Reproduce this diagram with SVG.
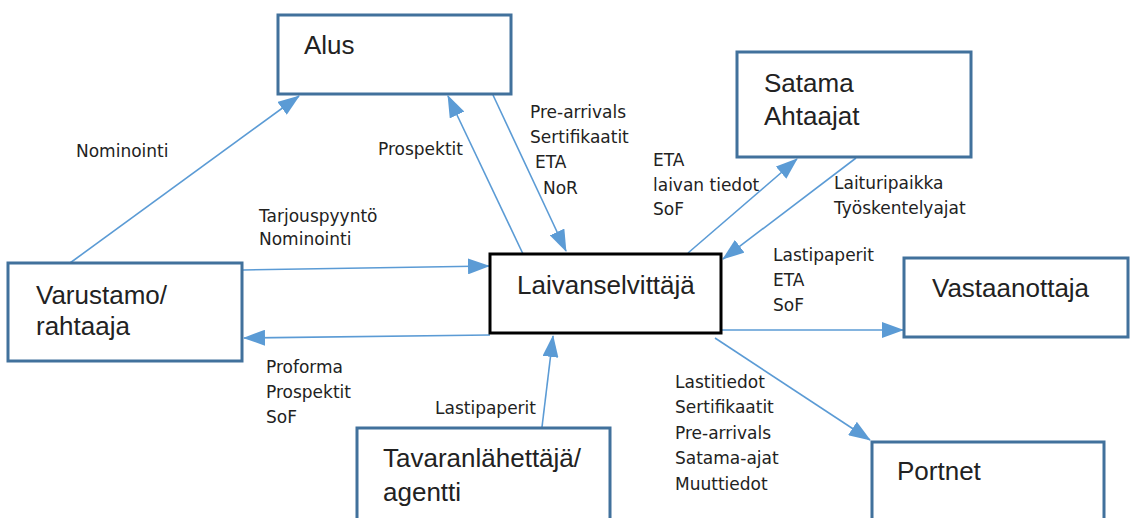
<svg xmlns="http://www.w3.org/2000/svg" width="1131" height="518" viewBox="0 0 1131 518">
  <style>
    .box { fill: #ffffff; stroke: #41719C; stroke-width: 3; }
    .hub { fill: #ffffff; stroke: #000000; stroke-width: 3; }
    .name { font-family: "Liberation Sans", Arial, sans-serif; font-size: 26px; fill: #222222; }
    .lbl { font-family: "DejaVu Sans", Verdana, sans-serif; font-size: 17px; fill: #222222; }
    .flow { stroke: #5B9BD5; stroke-width: 1.6; fill: none; marker-end: url(#head); }
  </style>
  <defs>
    <marker id="head" markerUnits="userSpaceOnUse" markerWidth="22" markerHeight="16" refX="21" refY="8" orient="auto">
      <path d="M0,0 L22,8 L0,16 z" fill="#5B9BD5"/>
    </marker>
  </defs>
  <rect width="1131" height="518" fill="#ffffff"/>

  <!-- connectors -->
  <g id="connectors">
    <line class="flow" x1="70" y1="263" x2="299" y2="96"/>
    <line class="flow" x1="523" y1="254" x2="448" y2="96"/>
    <line class="flow" x1="493" y1="95" x2="566" y2="251"/>
    <line class="flow" x1="688" y1="253" x2="797" y2="159"/>
    <line class="flow" x1="856" y1="158" x2="723" y2="259"/>
    <line class="flow" x1="243" y1="270" x2="489" y2="266"/>
    <line class="flow" x1="490" y1="335" x2="244" y2="338"/>
    <line class="flow" x1="542" y1="427" x2="553" y2="336"/>
    <line class="flow" x1="722" y1="330" x2="903" y2="330"/>
    <line class="flow" x1="715" y1="338" x2="870" y2="440"/>

    <text class="lbl" x="76" y="157">Nominointi</text>
    <text class="lbl" x="259" y="222">Tarjouspyyntö</text>
    <text class="lbl" x="259" y="245">Nominointi</text>
    <text class="lbl" x="378" y="155">Prospektit</text>
    <text class="lbl" x="530" y="118">Pre-arrivals</text>
    <text class="lbl" x="530" y="143">Sertifikaatit</text>
    <text class="lbl" x="535" y="168">ETA</text>
    <text class="lbl" x="543" y="194">NoR</text>
    <text class="lbl" x="653" y="166">ETA</text>
    <text class="lbl" x="653" y="191">laivan tiedot</text>
    <text class="lbl" x="653" y="215">SoF</text>
    <text class="lbl" x="834" y="189">Laituripaikka</text>
    <text class="lbl" x="834" y="214">Työskentelyajat</text>
    <text class="lbl" x="773" y="261">Lastipaperit</text>
    <text class="lbl" x="773" y="286">ETA</text>
    <text class="lbl" x="773" y="311">SoF</text>
    <text class="lbl" x="266" y="373">Proforma</text>
    <text class="lbl" x="266" y="398">Prospektit</text>
    <text class="lbl" x="266" y="423">SoF</text>
    <text class="lbl" x="435" y="414">Lastipaperit</text>
    <text class="lbl" x="675" y="388">Lastitiedot</text>
    <text class="lbl" x="675" y="413">Sertifikaatit</text>
    <text class="lbl" x="675" y="439">Pre-arrivals</text>
    <text class="lbl" x="675" y="464">Satama-ajat</text>
    <text class="lbl" x="675" y="490">Muuttiedot</text>
  </g>

  <!-- nodes -->
  <g id="alus">
    <rect class="box" x="278" y="15" width="233" height="79"/>
    <text class="name" x="304" y="54">Alus</text>
  </g>
  <g id="satama">
    <rect class="box" x="737" y="52" width="234" height="105"/>
    <text class="name" x="764" y="92">Satama</text>
    <text class="name" x="764" y="125">Ahtaajat</text>
  </g>
  <g id="varustamo">
    <rect class="box" x="8" y="263" width="234" height="98"/>
    <text class="name" x="36" y="304">Varustamo/</text>
    <text class="name" x="36" y="335">rahtaaja</text>
  </g>
  <g id="laivanselvittaja">
    <rect class="hub" x="490" y="254" width="231" height="79"/>
    <text class="name" x="517" y="294">Laivanselvittäjä</text>
  </g>
  <g id="vastaanottaja">
    <rect class="box" x="904" y="258" width="224" height="79"/>
    <text class="name" x="932" y="297">Vastaanottaja</text>
  </g>
  <g id="tavaranlahettaja">
    <rect class="box" x="357" y="428" width="253" height="100"/>
    <text class="name" x="383" y="467">Tavaranlähettäjä/</text>
    <text class="name" x="383" y="501">agentti</text>
  </g>
  <g id="portnet">
    <rect class="box" x="872" y="442" width="232" height="90"/>
    <text class="name" x="897" y="480">Portnet</text>
  </g>
</svg>
